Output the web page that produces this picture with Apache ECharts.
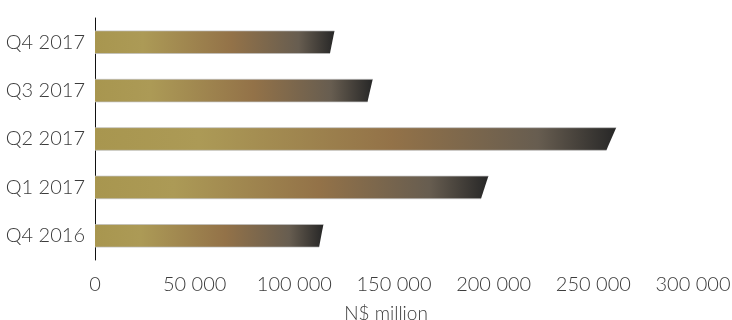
<!DOCTYPE html>
<html>
<head>
<meta charset="utf-8">
<script src="https://cdn.jsdelivr.net/npm/echarts@6/dist/echarts.min.js"></script>
<style>
  html, body { margin: 0; padding: 0; background: #ffffff; }
  #chart { width: 732px; height: 320px; }
</style>
</head>
<body>
<div id="chart"></div>
<script>
// Quarterly values, N$ million (listed bottom to top)
const categories = ['Q4 2016', 'Q1 2017', 'Q2 2017', 'Q3 2017', 'Q4 2017'];
const values = [113500, 195500, 259000, 138000, 119000];
const tickValues = [0, 50000, 100000, 150000, 200000, 250000, 300000];
const axisTitle = 'N$ million';

const FONT = '"Lato", "Open Sans", sans-serif';
const TEXT = '#3c3c3c';

function fmt(v) {
  return String(v).replace(/\B(?=(\d{3})+(?!\d))/g, ' ');
}

const chart = echarts.init(document.getElementById('chart'), null, { renderer: 'canvas' });

chart.setOption({
  backgroundColor: '#ffffff',
  animation: false,
  grid: {
    left: 95, right: 39, top: 18, height: 242,
    containLabel: false,
    outerBoundsMode: 'none'
  },
  xAxis: {
    type: 'value',
    min: tickValues[0],
    max: tickValues[tickValues.length - 1],
    interval: tickValues[1] - tickValues[0],
    axisLine: { show: false },
    axisTick: { show: false },
    splitLine: { show: false },
    axisLabel: {
      margin: 15,
      color: TEXT,
      fontFamily: FONT,
      fontWeight: 300,
      fontSize: 20,
      formatter: fmt
    },
    name: axisTitle,
    nameLocation: 'middle',
    nameGap: 44,
    nameTextStyle: {
      color: TEXT, fontFamily: FONT, fontWeight: 300, fontSize: 19,
      padding: [0, 16, 0, 0]
    }
  },
  yAxis: {
    type: 'category',
    data: categories,
    axisLine: { show: true, lineStyle: { color: '#111111', width: 1 } },
    axisTick: { show: false },
    axisLabel: {
      margin: 10,
      color: TEXT,
      fontFamily: FONT,
      fontWeight: 300,
      fontSize: 20
    }
  },
  series: [{
    type: 'custom',
    data: values.map((v, i) => [v, i]),
    encode: { x: 0, y: 1 },
    renderItem: function (params, api) {
      const start = api.coord([0, api.value(1)]);
      const end = api.coord([api.value(0), api.value(1)]);
      const h = api.size([0, 1])[1] * 0.467;
      const len = end[0] - start[0];
      const slant = len * 0.019;
      const top = end[1] - h / 2;
      const bottom = top + h;
      // gold -> bronze -> charcoal fade along each bar
      const fill = {
        type: 'linear', x: 0, y: 0, x2: 1, y2: 0,
        colorStops: [
          { offset: 0, color: '#a8964f' },
          { offset: 0.2, color: '#ac9a56' },
          { offset: 0.57, color: '#937248' },
          { offset: 0.85, color: '#675d50' },
          { offset: 1, color: '#272727' }
        ]
      };
      return {
        type: 'group',
        children: [
          {
            type: 'polygon',
            shape: { points: [
              [start[0], top], [end[0] + slant / 2, top],
              [end[0] - slant / 2, bottom], [start[0], bottom]
            ] },
            style: { fill: fill }
          },
          {
            type: 'line',
            shape: { x1: start[0], y1: top, x2: end[0] + slant / 2, y2: top },
            style: { stroke: 'rgba(190,190,190,0.7)', lineWidth: 1 }
          },
          {
            type: 'line',
            shape: { x1: start[0], y1: bottom, x2: end[0] - slant / 2, y2: bottom },
            style: { stroke: 'rgba(190,190,190,0.7)', lineWidth: 1 }
          }
        ]
      };
    }
  }]
});
</script>
</body>
</html>
